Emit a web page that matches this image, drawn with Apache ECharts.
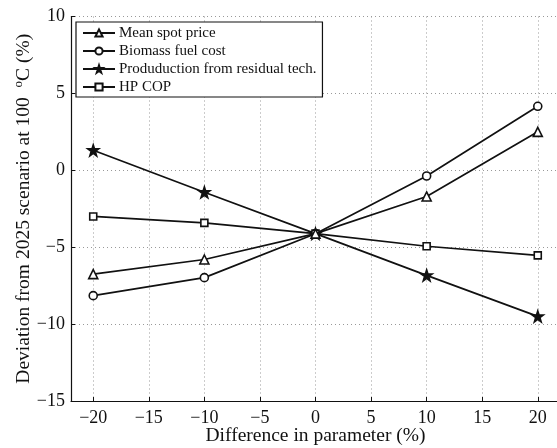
<!DOCTYPE html>
<html>
<head>
<meta charset="utf-8">
<script src="https://cdn.jsdelivr.net/npm/echarts@6/dist/echarts.min.js"></script>
<style>html,body{margin:0;padding:0;background:#fff}#c{width:557px;height:448px}</style>
</head>
<body>
<div id="c"></div>
<script>
const xValues = [-20, -10, 0, 10, 20];
const seriesNames = ['Mean spot price', 'Biomass fuel cost', 'Produduction from residual tech.', 'HP COP'];
const meanSpotPrice = [-6.75, -5.8, -4.12, -1.7, 2.5];
const biomassFuelCost = [-8.15, -6.98, -4.12, -0.37, 4.16];
const residualTech = [1.3, -1.43, -4.12, -6.83, -9.5];
const hpCop = [-3.0, -3.42, -4.12, -4.94, -5.53];
const xTicks = [-20, -15, -10, -5, 0, 5, 10, 15, 20];
const yTicks = [-15, -10, -5, 0, 5, 10];

const FONT = 'Liberation Serif';
const starPath = 'path://M50,0 L61.8,35.4 L100,35.4 L69.1,57.3 L80.9,95.1 L50,73.2 L19.1,95.1 L30.9,57.3 L0,35.4 L38.2,35.4 Z';
const fmt = v => (v < 0 ? '\u2212' + Math.abs(v) : String(v));

function mk(name, data, symbol, size, filled, z) {
  return {
    name: name, type: 'line', z: z,
    data: xValues.map((x, i) => [x, data[i]]),
    symbol: symbol, symbolSize: size, showSymbol: true,
    lineStyle: { color: '#111', width: 1.7 },
    itemStyle: { color: filled ? '#111' : '#fff', borderColor: '#111', borderWidth: 1.6 },
    animation: false
  };
}

const chart = echarts.init(document.getElementById('c'), null, { renderer: 'canvas' });
chart.setOption({
  animation: false,
  backgroundColor: '#fff',
  textStyle: { fontFamily: FONT },
  grid: { left: 71, width: 489, top: 16.5, height: 384.5, containLabel: false, outerBoundsMode: 'none' },
  legend: {
    left: 76, top: 22,
    orient: 'vertical',
    backgroundColor: '#fff',
    borderColor: '#111', borderWidth: 1.2,
    padding: [3, 6, 2, 6],
    itemGap: 2,
    itemWidth: 32, itemHeight: 9,
    textStyle: { fontFamily: FONT, fontSize: 15, lineHeight: 16, color: '#111', padding: [0, 0, 0, -1] },
    data: seriesNames
  },
  xAxis: {
    type: 'value', min: -22, max: 22, interval: 5,
    customValues: xTicks,
    axisLine: { onZero: false, lineStyle: { color: '#111', width: 1.2 } },
    axisTick: { inside: true, length: 4, lineStyle: { color: '#111' }, customValues: xTicks },
    axisLabel: { fontFamily: FONT, fontSize: 18, color: '#111', margin: 8, formatter: fmt, customValues: xTicks },
    splitLine: { show: true, lineStyle: { color: '#999', type: [1, 3], width: 1 } },
    name: 'Difference in parameter (%)',
    nameLocation: 'middle', nameGap: 25, nameMoveOverlap: false,
    nameTextStyle: { fontFamily: FONT, fontSize: 19.5, color: '#111' }
  },
  yAxis: {
    type: 'value', min: -15, max: 10, interval: 5,
    axisLine: { show: true, onZero: false, lineStyle: { color: '#111', width: 1.2 } },
    axisTick: { show: true, inside: true, length: 4, lineStyle: { color: '#111' } },
    axisLabel: { fontFamily: FONT, fontSize: 18, color: '#111', margin: 6, formatter: fmt },
    splitLine: { show: true, lineStyle: { color: '#999', type: [1, 3], width: 1 } },
    name: '{a|Deviation from 2025 scenario at 100  }{s|o}{a|C (%)}',
    nameLocation: 'middle', nameGap: 37, nameMoveOverlap: false,
    nameTextStyle: {
      fontFamily: FONT, fontSize: 19.5, color: '#111',
      rich: {
        a: { fontFamily: FONT, fontSize: 19.5, color: '#111', lineHeight: 22, verticalAlign: 'bottom' },
        s: { fontFamily: FONT, fontSize: 13, color: '#111', lineHeight: 22, verticalAlign: 'top' }
      }
    }
  },
  series: [
    mk(seriesNames[0], meanSpotPrice, 'triangle', 9, false, 5),
    mk(seriesNames[1], biomassFuelCost, 'circle', 8, false, 3),
    mk(seriesNames[2], residualTech, starPath, 11, true, 2),
    mk(seriesNames[3], hpCop, 'rect', 7, false, 4)
  ]
});
</script>
</body>
</html>
